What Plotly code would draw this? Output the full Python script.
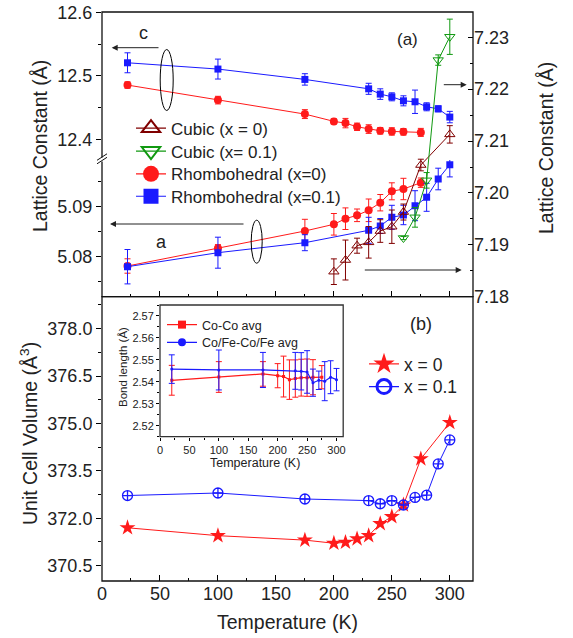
import plotly.graph_objects as go

# ---------------- data ----------------
# Top panel: rhombohedral c (left axis, upper segment)
T_rh0 = [22, 100, 175, 200, 210, 220, 230, 240, 250, 260, 275]
c_rh0 = [12.4854, 12.4617, 12.4397, 12.4282, 12.4255, 12.4197, 12.4161, 12.4134, 12.4124, 12.4118, 12.4109]
c_rh0_err = [0.005, 0.006, 0.007, 0.004, 0.0074, 0.0058, 0.0068, 0.0052, 0.0058, 0.0052, 0.0063]

T_rh1 = [22, 100, 175, 230, 240, 250, 260, 270, 280, 290, 300]
c_rh1 = [12.5205, 12.5106, 12.4943, 12.4795, 12.4712, 12.4669, 12.4606, 12.4591, 12.4512, 12.4480, 12.4350]
c_rh1_err = [0.0157, 0.0157, 0.009, 0.0087, 0.0083, 0.0063, 0.0079, 0.0184, 0.0063, 0.0047, 0.009]

# rhombohedral a (left axis, lower segment)
a_rh0 = [5.07814, 5.08168, 5.08514, 5.08648, 5.0876, 5.08828, 5.08928, 5.0908, 5.09308, 5.09354, 5.0948]
a_rh0_err = [0.00144, 0.00074, 0.00234, 0.00216, 0.00216, 0.00126, 0.00226, 0.00164, 0.0017, 0.00214, 0.00094]
a_rh1 = [5.0780, 5.0808, 5.0828, 5.08528, 5.08614, 5.08788, 5.08834, 5.0902, 5.09188, 5.09554, 5.0984]
a_rh1_err = [0.00344, 0.0031, 0.0016, 0.0026, 0.0015, 0.0024, 0.00194, 0.003, 0.0028, 0.00216, 0.00244]

# cubic a (right axis)
T_cub0 = [200, 210, 220, 230, 240, 250, 260, 275, 300]
a_cub0 = [7.18482, 7.18707, 7.18983, 7.19048, 7.19266, 7.19349, 7.19632, 7.20538, 7.21129]
a_cub0_err = [0.00247, 0.00385, 0.00145, 0.00304, 0.00218, 0.00322, 0.00154, 0.00112, 0.00168]
T_cub1 = [260, 270, 280, 290, 300]
a_cub1 = [7.19131, 7.1953, 7.20243, 7.22561, 7.2301]
a_cub1_err = [0.0003, 0.0019, 0.0015, 0.001, 0.0034]

# Bottom panel: unit cell volume
T_v0 = [22, 100, 175, 200, 210, 220, 230, 240, 250, 260, 275, 300]
V0 = [371.70, 371.45, 371.31, 371.21, 371.24, 371.35, 371.45, 371.83, 372.05, 372.42, 373.88, 375.03]
T_v1 = [22, 100, 175, 230, 240, 250, 260, 270, 280, 290, 300]
V1 = [372.72, 372.80, 372.61, 372.56, 372.46, 372.56, 372.42, 372.66, 372.73, 373.72, 374.48]

# Inset: bond lengths
T_coco = [20, 100, 175, 200, 210, 220, 230, 240, 250, 260, 275]
coco = [2.5407, 2.5422, 2.5436, 2.5428, 2.5424, 2.541, 2.5415, 2.5419, 2.5419, 2.5421, 2.5421]
coco_err = [0.0068, 0.007, 0.0056, 0.0055, 0.0093, 0.009, 0.0085, 0.0084, 0.0085, 0.008, 0.0053]
T_cofe = [20, 100, 175, 230, 240, 250, 260, 270, 280, 290, 300]
cofe = [2.5458, 2.5454, 2.5454, 2.545, 2.5448, 2.5445, 2.5396, 2.5407, 2.5403, 2.5421, 2.541]
cofe_err = [0.0065, 0.0091, 0.008, 0.0084, 0.0085, 0.0097, 0.0062, 0.0042, 0.0089, 0.0075, 0.0051]

x_ticks = [0, 50, 100, 150, 200, 250, 300]

# ---------------- layout helpers ----------------
W, H = 573, 638
ML, MR, MT, MB = 102, 100, 12, 57
PW, PH = W - ML - MR, H - MT - MB


def px(x):
    return (x - ML) / PW


def py(y):
    return (H - MB - y) / PH


RED = "#ff1a1a"
BLUE = "#1a1aff"
GREEN = "#119911"
MAROON = "#800000"
TXT = "#222222"
FONT = "Liberation Sans, Arial, Helvetica, sans-serif"

fig = go.Figure()


def err(vals, color):
    return dict(type="data", array=vals, visible=True, color=color, thickness=1, width=3)


# upper segment (c)
fig.add_trace(go.Scatter(x=T_rh0, y=c_rh0, mode="lines+markers", xaxis="x", yaxis="y",
                         line=dict(color=RED, width=1), marker=dict(symbol="circle", size=8, color=RED),
                         error_y=err(c_rh0_err, RED), showlegend=False))
fig.add_trace(go.Scatter(x=T_rh1, y=c_rh1, mode="lines+markers", xaxis="x", yaxis="y",
                         line=dict(color=BLUE, width=1), marker=dict(symbol="square", size=7, color=BLUE),
                         error_y=err(c_rh1_err, BLUE), showlegend=False))
# lower segment (a)
fig.add_trace(go.Scatter(x=T_rh0, y=a_rh0, mode="lines+markers", xaxis="x", yaxis="y2",
                         line=dict(color=RED, width=1), marker=dict(symbol="circle", size=8, color=RED),
                         error_y=err(a_rh0_err, RED), showlegend=False))
fig.add_trace(go.Scatter(x=T_rh1, y=a_rh1, mode="lines+markers", xaxis="x", yaxis="y2",
                         line=dict(color=BLUE, width=1), marker=dict(symbol="square", size=7, color=BLUE),
                         error_y=err(a_rh1_err, BLUE), showlegend=False))
# cubic (right axis)
fig.add_trace(go.Scatter(x=T_cub0, y=a_cub0, mode="lines+markers", xaxis="x3", yaxis="y3",
                         line=dict(color=MAROON, width=1),
                         marker=dict(symbol="triangle-up-open", size=9, color=MAROON, line=dict(width=1)),
                         error_y=err(a_cub0_err, MAROON), showlegend=False))
fig.add_trace(go.Scatter(x=T_cub1, y=a_cub1, mode="lines+markers", xaxis="x3", yaxis="y3",
                         line=dict(color=GREEN, width=1),
                         marker=dict(symbol="triangle-down-open", size=9, color=GREEN, line=dict(width=1)),
                         error_y=err(a_cub1_err, GREEN), showlegend=False))

# bottom panel
fig.add_trace(go.Scatter(x=T_v0, y=V0, mode="lines+markers", xaxis="x2", yaxis="y4",
                         line=dict(color=RED, width=1), marker=dict(symbol="star", size=12, color=RED),
                         showlegend=False))
fig.add_trace(go.Scatter(x=T_v1, y=V1, mode="lines+markers", xaxis="x2", yaxis="y4",
                         line=dict(color=BLUE, width=1),
                         marker=dict(symbol="circle-cross-open", size=10, color=BLUE, line=dict(width=1.3)),
                         showlegend=False))

# inset
fig.add_trace(go.Scatter(x=T_coco, y=coco, mode="lines+markers", xaxis="x4", yaxis="y5",
                         line=dict(color=RED, width=1.2), marker=dict(symbol="square", size=3, color=RED),
                         error_y=err(coco_err, RED), showlegend=False))
fig.add_trace(go.Scatter(x=T_cofe, y=cofe, mode="lines+markers", xaxis="x4", yaxis="y5",
                         line=dict(color=BLUE, width=1.2), marker=dict(symbol="circle", size=3, color=BLUE),
                         error_y=err(cofe_err, BLUE), showlegend=False))

# ---------------- legends (one entry per legend for exact row placement) ----------------
legend_items = [
    # name, symbol, color, size, marker line width, font size, legend x px, row y px, axes
    ("Cubic (x = 0)", "triangle-up-open", MAROON, 16, 2, 17, 131, 128.5, "x", "y"),
    ("Cubic (x= 0.1)", "triangle-down-open", GREEN, 16, 2, 17, 131, 151.5, "x", "y"),
    ("Rhombohedral (x=0)", "circle", RED, 16, 0, 17, 131, 174.3, "x", "y"),
    ("Rhombohedral (x=0.1)", "square", BLUE, 15, 0, 17, 131, 196.7, "x", "y"),
    ("x = 0", "star", RED, 16, 0, 17.5, 364, 364, "x2", "y4"),
    ("x = 0.1", "circle-open", BLUE, 14, 3, 17.5, 364, 386.7, "x2", "y4"),
    ("Co-Co avg", "square", RED, 8, 0, 12.5, 162, 325, "x4", "y5"),
    ("Co/Fe-Co/Fe avg", "circle", BLUE, 8, 0, 12.5, 162, 342.7, "x4", "y5"),
]
legend_layout = {}
for i, (name, sym, col, msize, mlw, fsize, lx, ly, xa, ya) in enumerate(legend_items):
    lid = "legend" if i == 0 else f"legend{i + 1}"
    fig.add_trace(go.Scatter(x=[None], y=[None], name=name, mode="lines+markers", xaxis=xa, yaxis=ya,
                             line=dict(color=col, width=1.2),
                             marker=dict(symbol=sym, size=msize, color=col, line=dict(width=mlw, color=col)),
                             legend=lid, showlegend=True))
    legend_layout[lid] = dict(x=px(lx), y=py(ly), xanchor="left", yanchor="middle",
                              bgcolor="rgba(0,0,0,0)", borderwidth=0,
                              font=dict(family=FONT, size=fsize, color=TXT), itemwidth=30)

# ---------------- axes ----------------
Y_TOP, Y_BRK, Y_MID, Y_BOT = 12, 160, 296.7, 581
top_dom = [py(Y_MID), 1]
up_dom = [py(Y_BRK), 1]
lo_dom = [py(Y_MID), py(Y_BRK)]
bot_dom = [0, py(Y_MID)]
tickfont = dict(family=FONT, size=18, color=TXT)
inset_font = dict(family=FONT, size=11, color=TXT)

common_x = dict(range=[0, 320], showgrid=False, zeroline=False, showline=False, automargin=False,
                tickvals=x_ticks, ticks="inside", ticklen=6, tickcolor="black",
                minor=dict(dtick=25, tick0=0, ticks="inside", ticklen=3, tickcolor="black"))

fig.update_layout(
    xaxis=dict(domain=[0, 1], anchor="y2", showticklabels=False, **common_x),
    xaxis2=dict(domain=[0, 1], anchor="y4", showticklabels=True, tickfont=tickfont, **common_x),
    xaxis3=dict(domain=[0, 1], anchor="y3", range=[0, 320], visible=False, automargin=False),
    yaxis=dict(domain=up_dom, anchor="x", range=[12.4 - (Y_BRK - 139.3) / 635, 12.6 + 0.3 / 635],
               tickvals=[12.4, 12.5, 12.6], ticktext=["12.4", "12.5", "12.6"], automargin=False,
               ticks="outside", ticklen=5, tickcolor="black", tickfont=tickfont,
               minor=dict(tickvals=[12.45, 12.55], ticks="outside", ticklen=3, tickcolor="black"),
               showgrid=False, zeroline=False, showline=False),
    yaxis2=dict(domain=lo_dom, anchor="x", range=[5.08 - (Y_MID - 256.7) / 5000, 5.09 + (206.7 - Y_BRK) / 5000],
                tickvals=[5.08, 5.09], ticktext=["5.08", "5.09"], automargin=False,
                ticks="outside", ticklen=5, tickcolor="black", tickfont=tickfont,
                minor=dict(tickvals=[5.075, 5.085, 5.095], ticks="outside", ticklen=3, tickcolor="black"),
                showgrid=False, zeroline=False, showline=False),
    yaxis3=dict(domain=top_dom, anchor="x3", side="right", range=[7.18, 7.23 + (37.3 - Y_TOP) / 5190],
                tickvals=[7.18, 7.19, 7.20, 7.21, 7.22, 7.23], automargin=False,
                ticktext=["7.18", "7.19", "7.20", "7.21", "7.22", "7.23"],
                ticks="inside", ticklen=5, tickcolor="black", tickfont=tickfont,
                minor=dict(tickvals=[7.185, 7.195, 7.205, 7.215, 7.225], ticks="inside", ticklen=3,
                           tickcolor="black"),
                showgrid=False, zeroline=False, showline=False),
    yaxis4=dict(domain=bot_dom, anchor="x2", range=[370.016, 379.01], automargin=False,
                tickvals=[370.5, 372.0, 373.5, 375.0, 376.5, 378.0], tickformat=".1f",
                ticks="outside", ticklen=5, tickcolor="black", tickfont=tickfont,
                minor=dict(dtick=0.75, tick0=370.5, ticks="outside", ticklen=3, tickcolor="black"),
                showgrid=False, zeroline=False, showline=False),
    xaxis4=dict(domain=[px(160), px(343.2)], anchor="y5", range=[0, 311.4], automargin=False,
                tickvals=x_ticks, ticks="outside", ticklen=3, tickcolor="black",
                tickfont=inset_font, ticklabelstandoff=0,
                minor=dict(dtick=25, tick0=0, ticks="outside", ticklen=2, tickcolor="black"),
                showgrid=False, zeroline=False, showline=False),
    yaxis5=dict(domain=[py(436.7), py(305)], anchor="x4", range=[2.515, 2.575], automargin=False,
                tickvals=[2.52, 2.53, 2.54, 2.55, 2.56, 2.57], tickformat=".2f",
                ticks="outside", ticklen=3, tickcolor="black", tickfont=inset_font,
                minor=dict(dtick=0.005, tick0=2.515, ticks="outside", ticklen=2, tickcolor="black"),
                showgrid=False, zeroline=False, showline=False),
)

# ---------------- shapes ----------------
shapes = []
frame = dict(color="#111111", width=1.3)
shapes.append(dict(type="rect", xref="paper", yref="paper", x0=0, x1=1, y0=py(Y_MID), y1=1, line=frame))
shapes.append(dict(type="rect", xref="paper", yref="paper", x0=0, x1=1, y0=0, y1=py(Y_MID), line=frame))
shapes.append(dict(type="rect", xref="paper", yref="paper", x0=px(160), x1=px(343.2), y0=py(436.7), y1=py(305),
                   line=dict(color="#333333", width=1.3)))
# axis break
shapes.append(dict(type="rect", xref="paper", yref="paper", x0=px(100), x1=px(104), y0=py(161.5), y1=py(157.5),
                   line=dict(width=0), fillcolor="white"))
for dy in (0, 3.5):
    shapes.append(dict(type="line", xref="paper", yref="paper", x0=px(97), y0=py(162 + dy - 1.7),
                       x1=px(107), y1=py(155.5 + dy - 1.7), line=dict(color="#111111", width=1)))
# ellipses
shapes.append(dict(type="circle", xref="paper", yref="paper", x0=px(160.2), x1=px(173.2), y0=py(110.5),
                   y1=py(49.5), line=dict(color="black", width=1)))
shapes.append(dict(type="circle", xref="paper", yref="paper", x0=px(251.2), x1=px(262.2), y0=py(263.2),
                   y1=py(220.2), line=dict(color="black", width=1)))

# ---------------- annotations ----------------
ann = []


def arrow(x_head, y_head, x_tail):
    ann.append(dict(xref="paper", yref="paper", x=px(x_head), y=py(y_head), ax=x_tail - x_head, ay=0,
                    axref="pixel", ayref="pixel", showarrow=True, arrowhead=2, arrowsize=1.2,
                    arrowwidth=1, arrowcolor="#222222", text=""))


arrow(111.7, 47.7, 160)
arrow(110, 224, 245)
arrow(466.7, 84.7, 442.3)
arrow(461.7, 270, 363.3)


def txt(x, y, s, size, angle=0, family=FONT):
    ann.append(dict(xref="paper", yref="paper", x=px(x), y=py(y), text=s, showarrow=False, textangle=angle,
                    xanchor="center", yanchor="middle", font=dict(family=family, size=size, color=TXT)))


txt(143, 33, "c", 18)
txt(161, 242, "a", 18)
txt(407, 40, "(a)", 17)
txt(421, 324, "(b)", 18)
txt(40, 146, "Lattice Constant (Å)", 19.5, -90)
txt(546, 148, "Lattice Constant (Å)", 19.5, -90)
txt(29, 434, "Unit Cell Volume (Å<sup>3</sup>)", 19.5, -90)
txt(287, 622, "Temperature (K)", 19.5)
txt(123, 367, "Bond length (Å)", 11.5, -90)
txt(255, 463, "Temperature (K)", 12.5)

fig.update_layout(
    width=W, height=H,
    margin=dict(l=ML, r=MR, t=MT, b=MB, autoexpand=False),
    paper_bgcolor="white", plot_bgcolor="rgba(0,0,0,0)",
    font=dict(family=FONT, color=TXT),
    shapes=shapes, annotations=ann,
    **legend_layout,
)

fig.write_html("out.html", config={"displayModeBar": False},
               post_script="document.body.style.margin='0';document.body.style.overflow='hidden';")
